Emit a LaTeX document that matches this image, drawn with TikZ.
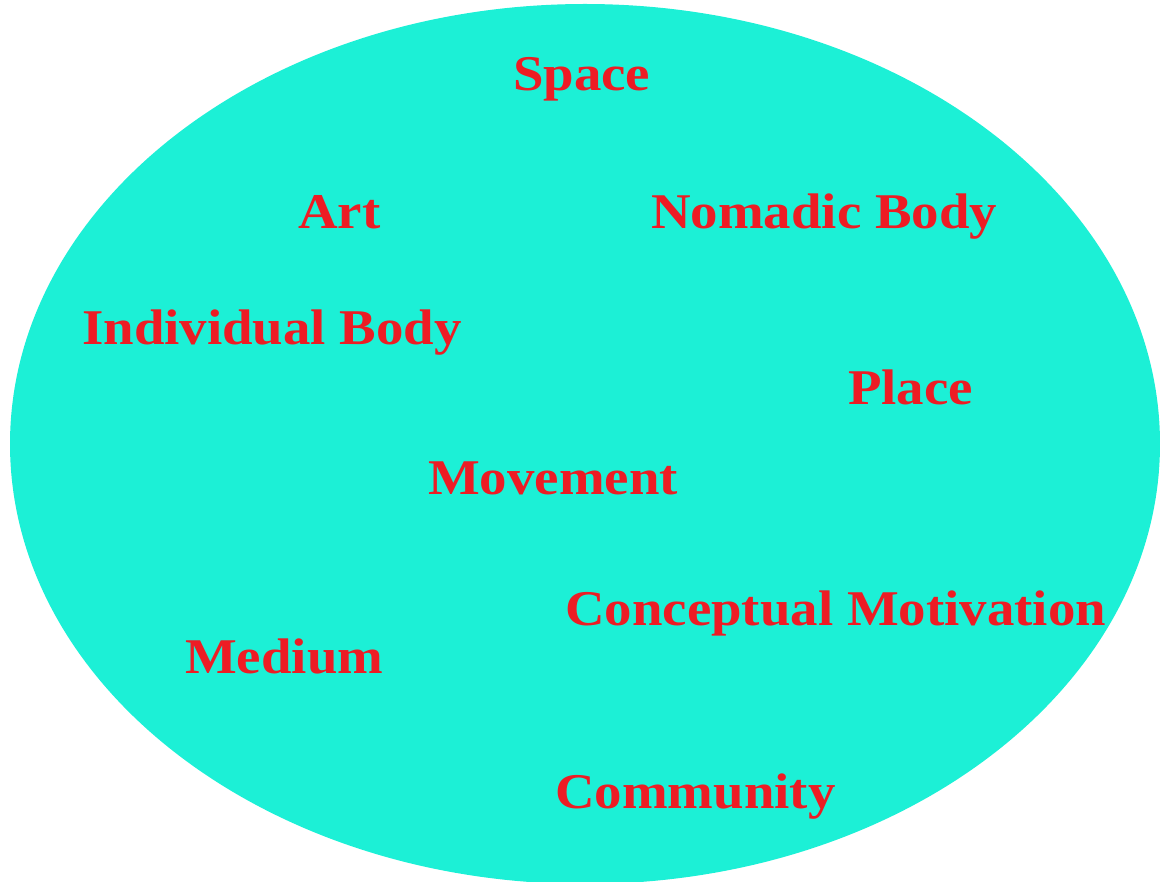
\documentclass[tikz,border=0pt]{standalone}
\usepackage{fontspec}
\setmainfont{Liberation Serif}
\newfontfamily\wordfont[FakeStretch=1.097]{Liberation Serif}
\definecolor{blobcyan}{RGB}{28,240,214}
\definecolor{wordred}{RGB}{237,28,36}
\begin{document}
\begin{tikzpicture}[x=1pt,y=-1pt,
  word/.style={anchor=base west,inner sep=0pt,text=wordred,font=\wordfont\fontsize{50}{60}\selectfont\bfseries}]
\useasboundingbox (0,0) rectangle (1160,882);
\clip (0,0) rectangle (1160,882);
\fill[blobcyan] (585,444) ellipse [x radius=575, y radius=440];
\node[word] (space) at (513,91) {Space};
\node[word] (art) at (298,229) {Art};
\node[word] (nomadic) at (651,229) {Nomadic Body};
\node[word] (indiv) at (82,345) {Individual Body};
\node[word] (place) at (848,405) {Place};
\node[word] (move) at (428,495) {Movement};
\node[word] (concept) at (565,625) {Conceptual Motivation};
\node[word] (medium) at (185,673) {Medium};
\node[word] (community) at (555,808) {Community};
\end{tikzpicture}
\end{document}
